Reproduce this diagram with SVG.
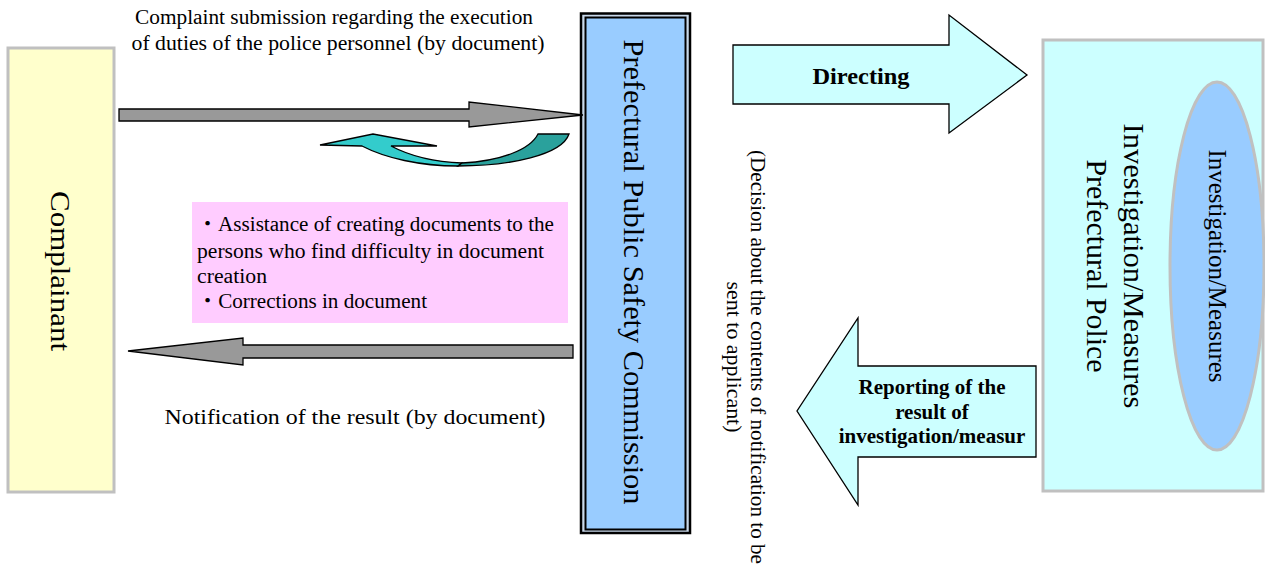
<svg xmlns="http://www.w3.org/2000/svg" width="1265" height="567" viewBox="0 0 1265 567">
<defs>
<style>
text{font-family:"Liberation Serif","Times New Roman","Noto Sans CJK JP",serif;fill:#000}
.lbl{font-size:20px}
.bold{font-weight:bold}
.blk{stroke:#000;stroke-width:1.3}
</style>
</defs>
<rect width="1265" height="567" fill="#fff"/>

<g id="complainant">
<rect x="8" y="48" width="106" height="444" fill="#ffffcc" stroke="#c0c0c0" stroke-width="3"/>
<text transform="translate(60,271) rotate(90)" text-anchor="middle" dominant-baseline="central" font-size="28" textLength="160" lengthAdjust="spacingAndGlyphs">Complainant</text>
</g>

<g id="ppsc">
<rect x="581" y="13.5" width="109" height="519.5" fill="#c8d8ea" stroke="#000" stroke-width="2.5"/>
<rect x="585.5" y="17.5" width="100" height="512" fill="#99ccff" stroke="#000" stroke-width="2"/>
<text transform="translate(634,272) rotate(90)" text-anchor="middle" dominant-baseline="central" font-size="29" textLength="465" lengthAdjust="spacingAndGlyphs">Prefectural Public Safety Commission</text>
</g>

<g id="police">
<rect x="1043" y="40" width="220" height="451" fill="#ccffff" stroke="#c0c0c0" stroke-width="3"/>
<text transform="translate(1134,266) rotate(90)" text-anchor="middle" dominant-baseline="central" font-size="30" textLength="285" lengthAdjust="spacingAndGlyphs">Investigation/Measures</text>
<text transform="translate(1097,266) rotate(90)" text-anchor="middle" dominant-baseline="central" font-size="30" textLength="213" lengthAdjust="spacingAndGlyphs">Prefectural Police</text>
</g>

<g id="measures">
<ellipse cx="1217" cy="266" rx="47" ry="184" fill="#99ccff" stroke="#c0c0c0" stroke-width="3"/>
<text transform="translate(1217,266) rotate(90)" text-anchor="middle" dominant-baseline="central" font-size="25" textLength="233" lengthAdjust="spacingAndGlyphs">Investigation/Measures</text>
</g>

<g id="assist-note">
<rect x="192" y="202" width="376" height="121" fill="#ffccff"/>
<text class="lbl" x="197" y="231" textLength="357" lengthAdjust="spacingAndGlyphs">・Assistance of creating documents to the</text>
<text class="lbl" x="197" y="258" textLength="347" lengthAdjust="spacingAndGlyphs">persons who find difficulty in document</text>
<text class="lbl" x="197" y="283" textLength="70" lengthAdjust="spacingAndGlyphs">creation</text>
<text class="lbl" x="197" y="308" textLength="230" lengthAdjust="spacingAndGlyphs">・Corrections in document</text>
</g>

<g id="connectors">
<polygon class="blk" points="119,109 469,109 469,102 583,115 469,127 469,121 119,121" fill="#999999"/>
<path class="blk" stroke-width="1" fill="#33cccc" d="M320,145 L373,134 L437,146 L391,146 C410,156 435,162 462,163 L458,166 C420,166 385,158 362,146 Z"/>
<path class="blk" stroke-width="1" fill="#2aa19c" d="M458,166 C510,166 562,155 569,134 L538,134 C530,150 500,161 462,163 Z"/>
<polygon class="blk" points="573,345 243,345 243,338 128,351 243,365 243,358 573,358" fill="#999999"/>
<polygon class="blk" points="733,45 949,45 949,15 1027,75 949,133 949,104 733,104" fill="#ccffff"/>
<polygon class="blk" points="1036,366 858,366 858,318 797,411 858,505 858,457 1036,457" fill="#ccffff"/>
</g>

<g id="labels">
<text class="lbl" x="334" y="24" text-anchor="middle" textLength="398" lengthAdjust="spacingAndGlyphs">Complaint submission regarding the execution</text>
<text class="lbl" x="338" y="50" text-anchor="middle" textLength="413" lengthAdjust="spacingAndGlyphs">of duties of the police personnel (by document)</text>
<text x="355" y="424" text-anchor="middle" font-size="22" textLength="381" lengthAdjust="spacingAndGlyphs">Notification of the result (by document)</text>
<text class="bold" x="861" y="84" text-anchor="middle" font-size="24" textLength="97" lengthAdjust="spacingAndGlyphs">Directing</text>
<text class="bold" x="932" y="394" text-anchor="middle" font-size="21">Reporting of the</text>
<text class="bold" x="932" y="419" text-anchor="middle" font-size="21">result of</text>
<text class="bold" x="932" y="443" text-anchor="middle" font-size="21">investigation/measur</text>
<text transform="translate(758,357) rotate(90)" text-anchor="middle" dominant-baseline="central" font-size="20" textLength="414" lengthAdjust="spacingAndGlyphs">(Decision about the contents of notification to be</text>
<text transform="translate(734,357) rotate(90)" text-anchor="middle" dominant-baseline="central" font-size="20" textLength="151" lengthAdjust="spacingAndGlyphs">sent to applicant)</text>
</g>
</svg>
